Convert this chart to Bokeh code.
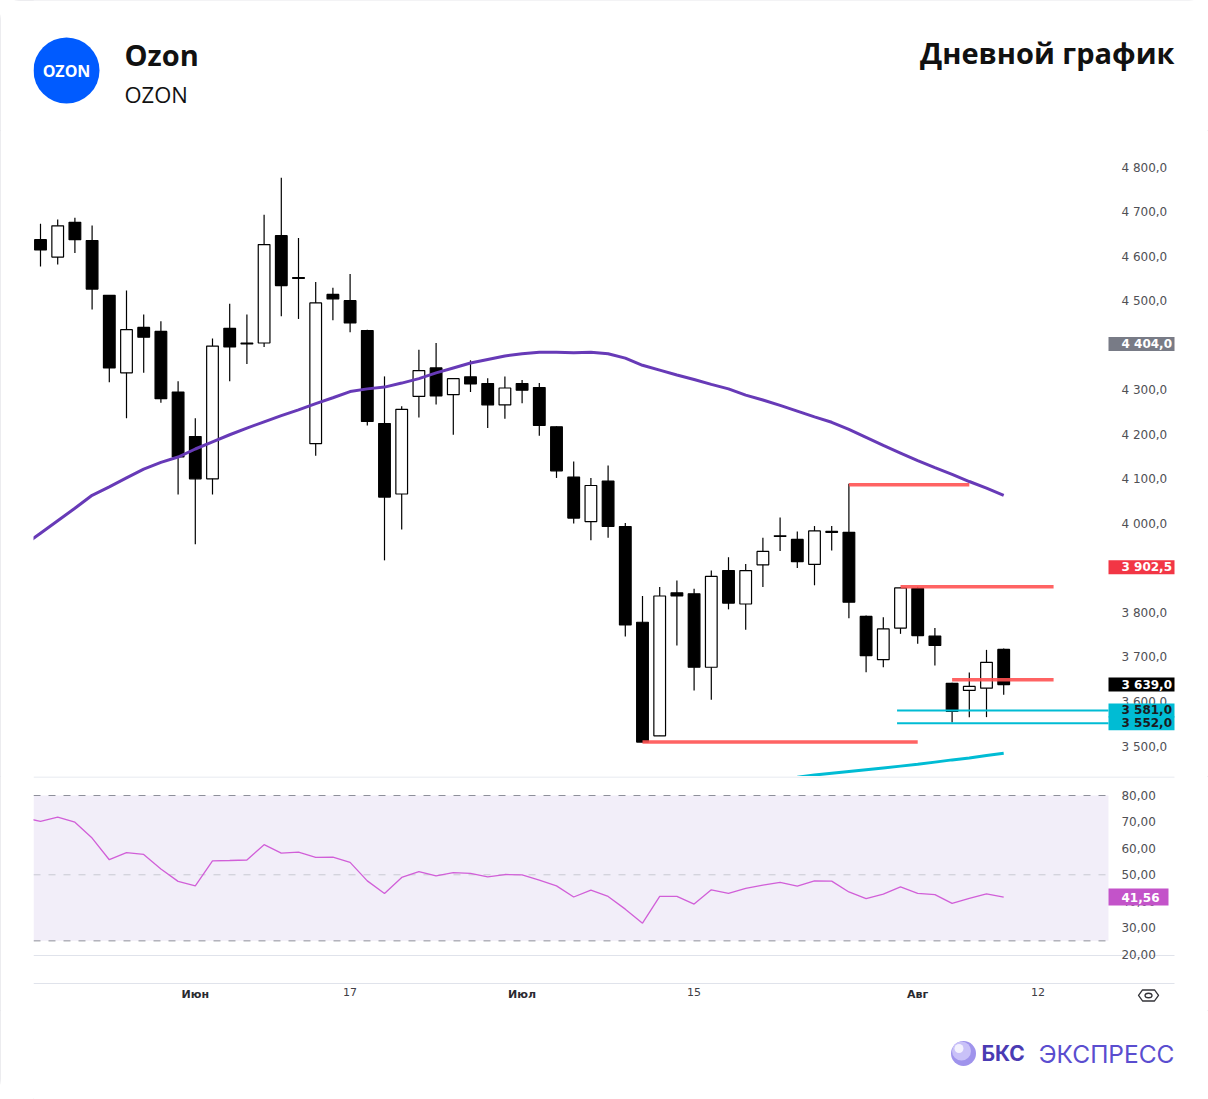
from bokeh.plotting import figure
from bokeh.layouts import column
from bokeh.models import Range1d, FixedTicker, ColumnDataSource, LinearAxis
from bokeh.core.properties import value
from bokeh.embed import file_html
from bokeh.resources import INLINE

# ---------------- data ----------------
dates = ["05-21", "05-22", "05-23", "05-24", "05-27", "05-28", "05-29", "05-30", "05-31",
         "06-03", "06-04", "06-05", "06-06", "06-07", "06-10", "06-11", "06-13", "06-14",
         "06-17", "06-18", "06-19", "06-20", "06-21", "06-24", "06-25", "06-26", "06-27", "06-28",
         "07-01", "07-02", "07-03", "07-04", "07-05", "07-08", "07-09", "07-10", "07-11", "07-12",
         "07-15", "07-16", "07-17", "07-18", "07-19", "07-22", "07-23", "07-24", "07-25", "07-26",
         "07-29", "07-30", "07-31", "08-01", "08-02", "08-05", "08-06", "08-07", "08-08"]
opens = [4638, 4599, 4677, 4636, 4513, 4339, 4441, 4432, 4296, 4196,
         4101, 4439, 4406, 4406, 4647, 4553, 4180, 4515, 4501, 4434,
         4225, 4067, 4286, 4350, 4290, 4330, 4315, 4267, 4315, 4306,
         4218, 4105, 4005, 4096, 3994, 3779, 3524, 3845, 3843, 3678,
         3895, 3820, 3908, 3973, 3965, 3909, 3983, 3981, 3792, 3695,
         3766, 3855, 3748, 3642, 3626, 3631, 3718]
highs = [4674, 4683, 4687, 4670, 4514, 4524, 4470, 4455, 4320, 4237,
         4416, 4494, 4470, 4694, 4777, 4642, 4543, 4530, 4561, 4436,
         4331, 4264, 4391, 4406, 4327, 4367, 4327, 4331, 4323, 4316,
         4219, 4140, 4103, 4131, 4002, 3838, 3858, 3873, 3854, 3895,
         3925, 3910, 3969, 4014, 3983, 3995, 3995, 4090, 3794, 3790,
         3858, 3859, 3766, 3643, 3666, 3717, 3720]
lows = [4578, 4582, 4608, 4481, 4318, 4237, 4339, 4272, 4066, 3954,
        4066, 4320, 4359, 4397, 4466, 4460, 4153, 4457, 4430, 4221,
        3918, 3987, 4239, 4268, 4200, 4296, 4215, 4236, 4271, 4198,
        4103, 4001, 3963, 3969, 3747, 3510, 3524, 3727, 3626, 3605,
        3808, 3762, 3858, 3939, 3901, 3862, 3940, 3788, 3667, 3678,
        3753, 3731, 3682, 3554, 3566, 3566, 3616]
closes = [4615, 4669, 4638, 4527, 4350, 4436, 4419, 4281, 4150, 4101,
          4399, 4397, 4404, 4627, 4535, 4551, 4496, 4505, 4451, 4230,
          4060, 4257, 4344, 4287, 4326, 4314, 4267, 4305, 4300, 4221,
          4119, 4013, 4086, 3994, 3773, 3510, 3838, 3838, 3678, 3882,
          3822, 3895, 3938, 3972, 3915, 3984, 3981, 3824, 3704, 3764,
          3856, 3749, 3727, 3579, 3635, 3689, 3639]

# indicator series start one session earlier (05-20)
ind_dates = ["05-20"] + dates
ma_values = [3951, 3979, 4007, 4035, 4064, 4083, 4103, 4123, 4138, 4150,
             4168, 4184, 4200, 4215, 4229, 4243, 4256, 4270, 4283, 4297,
             4303, 4307, 4316, 4326, 4339, 4350, 4361, 4369, 4377, 4382,
             4385, 4385, 4384, 4385, 4382, 4372, 4356, 4345, 4334, 4324,
             4313, 4303, 4289, 4278, 4266, 4253, 4240, 4228, 4212, 4194,
             4176, 4159, 4142, 4126, 4111, 4095, 4080, 4064]
rsi_values = [71.6, 70.2, 71.8, 69.9, 63.9, 55.7, 58.4, 57.7, 52.2, 47.5,
              45.8, 55.3, 55.4, 55.6, 61.4, 58.2, 58.6, 56.6, 56.7, 54.7,
              47.7, 42.9, 49.0, 51.2, 49.6, 50.8, 50.5, 49.2, 50.1, 50.0,
              48.0, 45.8, 41.6, 44.2, 41.8, 37.0, 31.7, 41.8, 41.8, 38.9,
              44.3, 43.0, 44.9, 46.1, 47.1, 45.7, 47.7, 47.6, 43.5, 41.0,
              42.7, 45.4, 43.0, 42.5, 39.2, 41.1, 42.8, 41.56]

# lower cyan trend line (sessions 07-23 .. 08-08)
trend_dates = ["07-23", "07-24", "07-25", "07-26", "07-29", "07-30", "07-31",
               "08-01", "08-02", "08-05", "08-06", "08-07", "08-08"]
trend_values = [3431, 3436, 3440, 3444, 3448, 3452, 3456, 3460, 3465, 3470, 3474, 3480, 3485]

# horizontal levels
red_prices = [4088, 3859, 3650, 3510]
red_from = ["07-26", "07-31", "08-05", "07-10"]
red_to_pos = [54, 58.9, 58.9, 51]
cyan_prices = [3581, 3552]

# price tags on the right scale
tag_values = [4404.0, 3902.5, 3639.0, 3581.0, 3552.0]
tag_bg = ["#787b86", "#f23645", "#000000", "#00bcd4", "#00bcd4"]
tag_fg = ["#ffffff", "#ffffff", "#ffffff", "#1b1b1f", "#1b1b1f"]
rsi_tag_value = 41.56

price_ticks = [3500, 3600, 3700, 3800, 3900, 4000, 4100, 4200, 4300, 4400, 4500, 4600, 4700, 4800]
rsi_ticks = [20, 30, 40, 50, 60, 70, 80]
rsi_levels = [80, 50, 25]
rsi_level_colors = ["#8e909a", "#c8c9d2", "#8e909a"]
day_tick_dates = ["06-17", "07-15", "08-12"]
day_tick_labels = ["17", "15", "12"]
month_tick_dates = ["06-03", "07-01", "08-01"]
month_tick_labels = ["Июн", "Июл", "Авг"]


def fmt_price(v):
    return f"{v:,.1f}".replace(",", " ").replace(".", ",")


def fmt_rsi(v):
    return f"{v:.2f}".replace(".", ",")


# positions on a trading-session axis
pos = {d: i for i, d in enumerate(dates)}
pos["05-20"] = -1
pos["08-12"] = len(dates) + 1
xs = [pos[d] for d in dates]
ind_x = [pos[d] for d in ind_dates]
trend_x = [pos[d] for d in trend_dates]

TICK_FONT = "DejaVu Sans"
W = 1208
X0, X1 = -0.407, 67.907      # whole frame incl. price-scale column
PANE_END = 62.09             # right edge of the chart panes (price scale starts here)
SEP_END = 65.93              # right end of separator lines
TAG_TX = 62.85               # where tag / tick texts start
XR = Range1d(X0, X1)


def clean(p):
    p.outline_line_color = None
    p.background_fill_color = "white"
    p.border_fill_color = "white"
    p.grid.visible = False
    return p


def style_price_axis(ax, ticks, fmt):
    ax.ticker = FixedTicker(ticks=ticks)
    ax.major_label_overrides = {t: fmt(t) for t in ticks}
    ax.fixed_location = PANE_END
    ax.axis_line_color = None
    ax.major_tick_line_color = None
    ax.minor_tick_line_color = None
    ax.major_tick_out = 0
    ax.major_tick_in = 0
    ax.major_label_standoff = 13
    ax.major_label_text_font = TICK_FONT
    ax.major_label_text_font_size = "12px"
    ax.major_label_text_color = "#505055"


def style_time_axis(ax, ticks, labels, bold, line_color):
    ax.ticker = FixedTicker(ticks=ticks)
    ax.major_label_overrides = {t: l for t, l in zip(ticks, labels)}
    ax.fixed_location = 8.87
    ax.bounds = (X0, SEP_END)
    ax.axis_line_color = line_color
    ax.major_tick_line_color = None
    ax.minor_tick_line_color = None
    ax.major_tick_out = 0
    ax.major_tick_in = 0
    ax.major_label_standoff = 5
    ax.major_label_text_font = TICK_FONT
    ax.major_label_text_font_size = "11px"
    ax.major_label_text_font_style = "bold" if bold else "normal"
    ax.major_label_text_color = "#2a2a30" if bold else "#404046"


# ---------------- header ----------------
hdr = clean(figure(width=W, height=130, x_range=Range1d(33, 1208), y_range=Range1d(130, 0),
                   x_axis_location=None, y_axis_location=None,
                   min_border_left=33, min_border_right=0, min_border_top=0, min_border_bottom=0,
                   output_backend="svg", toolbar_location=None))
hdr.scatter(x=[66], y=[70], size=66, marker="circle", fill_color="#005bff", line_color=None)
hdr.text(x=[66], y=[70], text=["OZON"], text_color="white", text_font=value("Open Sans"),
         text_font_style="bold", text_font_size="16px", text_align="center", text_baseline="middle")
hdr.text(x=[124], y=[54], text=["Ozon"], text_color="#111111", text_font=value("Open Sans"),
         text_font_style="bold", text_font_size="29px", text_align="left", text_baseline="middle")
hdr.text(x=[124], y=[93], text=["OZON"], text_color="#111111", text_font=value("Open Sans"),
         text_font_size="22px", text_align="left", text_baseline="middle")
hdr.text(x=[1174], y=[52], text=["Дневной график"], text_color="#111111", text_font=value("Open Sans"),
         text_font_style="bold", text_font_size="29px", text_align="right", text_baseline="middle")

# ---------------- main price pane ----------------
main = clean(figure(width=W, height=646, x_range=XR, y_range=Range1d(3432.7, 4883.1),
                    x_axis_location=None, y_axis_location="right",
                    min_border_left=33, min_border_right=0, min_border_top=0, min_border_bottom=0,
                    output_backend="svg", toolbar_location=None))
style_price_axis(main.yaxis[0], price_ticks, fmt_price)

tops = [max(o, c) for o, c in zip(opens, closes)]
bottoms = [min(o, c) for o, c in zip(opens, closes)]
fills = ["white" if c > o else "black" for o, c in zip(opens, closes)]
src = ColumnDataSource(dict(x=xs, high=highs, low=lows, top=tops, bottom=bottoms, fill=fills))
main.segment(x0="x", y0="low", x1="x", y1="high", source=src, line_color="black", line_width=1.2)
main.vbar(x="x", width=0.68, top="top", bottom="bottom", fill_color="fill",
          line_color="black", line_width=1.2, source=src)

main.line(ind_x, ma_values, line_color="#673ab7", line_width=3)
main.line(trend_x, trend_values, line_color="#00bcd4", line_width=3)

main.segment(x0=[pos[d] for d in red_from], y0=red_prices, x1=red_to_pos, y1=red_prices,
             line_color="#ff5252", line_width=3.5, line_alpha=0.9)
main.segment(x0=[49.8] * len(cyan_prices), y0=cyan_prices,
             x1=[PANE_END] * len(cyan_prices), y1=cyan_prices,
             line_color="#00bcd4", line_width=2)

tag_src = ColumnDataSource(dict(y=tag_values, text=[fmt_price(v) for v in tag_values],
                                bg=tag_bg, fg=tag_fg))
main.rect(x=64.012, y="y", width=66, height=14, width_units="screen", height_units="screen",
          fill_color="bg", line_color=None, source=tag_src, level="overlay")
main.text(x=TAG_TX, y="y", text="text", text_color="fg", text_font=value(TICK_FONT),
          text_font_style="bold", text_font_size="12px", text_align="left", text_baseline="middle",
          source=tag_src, level="overlay")

# ---------------- RSI pane + time axis ----------------
rsi = clean(figure(width=W, height=234, x_range=XR, y_range=Range1d(-1.35, 87.19),
                   y_axis_location="right",
                   min_border_left=33, min_border_right=0, min_border_top=0, min_border_bottom=0,
                   output_backend="svg", toolbar_location=None))
rsi.quad(left=[X0], right=[PANE_END], bottom=[25], top=[80], fill_color="#f2eef9",
         line_color=None, level="underlay")
rsi.segment(x0=[X0] * 3, y0=rsi_levels, x1=[PANE_END] * 3, y1=rsi_levels,
            line_color=rsi_level_colors, line_width=1, line_dash="7 8")
# pane separators
rsi.segment(x0=[X0, X0], y0=[87.0, 19.46], x1=[SEP_END, SEP_END], y1=[87.0, 19.46],
            line_color="#e0e3eb", line_width=1)
rsi.line(ind_x, rsi_values, line_color="#d15fd8", line_width=1.3)

style_price_axis(rsi.yaxis[0], rsi_ticks, fmt_rsi)

rsi.rect(x=[63.837], y=[rsi_tag_value], width=60, height=17, width_units="screen", height_units="screen",
         fill_color="#c353c9", line_color=None, level="overlay")
rsi.text(x=[TAG_TX], y=[rsi_tag_value], text=[fmt_rsi(rsi_tag_value)], text_color="white",
         text_font=value(TICK_FONT), text_font_style="bold", text_font_size="12px",
         text_align="left", text_baseline="middle", level="overlay")

# time scale: day numbers (regular) and month names (bold) on the same line
style_time_axis(rsi.xaxis[0], [pos[d] for d in day_tick_dates], day_tick_labels, False, "#e0e3eb")
month_axis = LinearAxis()
rsi.add_layout(month_axis, "below")
style_time_axis(month_axis, [pos[d] for d in month_tick_dates], month_tick_labels, True, None)

# eye icon of the time scale
ICX, ICY = 64.42, 4.33
hx = [-10, -6, 6, 10, 6, -6]
hy = [0, 5.5, 5.5, 0, -5.5, -5.5]
rsi.patch(x=[ICX + d / 17.2 for d in hx], y=[ICY + d / 2.643 for d in hy],
          fill_color=None, line_color="#333338", line_width=1.3, line_join="round")
rsi.ellipse(x=[ICX], y=[ICY], width=7, height=4.5, width_units="screen", height_units="screen",
            fill_color=None, line_color="#333338", line_width=1.3)

# ---------------- footer ----------------
ftr = clean(figure(width=W, height=89, x_range=Range1d(33, 1208), y_range=Range1d(1099, 1010),
                   x_axis_location=None, y_axis_location=None,
                   min_border_left=33, min_border_right=0, min_border_top=0, min_border_bottom=0,
                   output_backend="svg", toolbar_location=None))
ftr.scatter(x=[963], y=[1053], size=25, marker="circle", fill_color="#9f93ec", line_color=None)
ftr.scatter(x=[961], y=[1050.5], size=19, marker="circle", fill_color="#c9c1f8", line_color=None)
ftr.scatter(x=[958.5], y=[1048], size=9, marker="circle", fill_color="#f3f1fe", line_color=None)
ftr.text(x=[981], y=[1053], text=["БКС"], text_color="#4a3bb3", text_font=value("Inter"),
         text_font_style="bold", text_font_size="21px", text_align="left", text_baseline="middle")
ftr.text(x=[1174], y=[1053], text=["ЭКСПРЕСС"], text_color="#5a4dcf", text_font=value("Inter"),
         text_font_size="24.5px", text_align="right", text_baseline="middle")

layout = column(hdr, main, rsi, ftr, spacing=0,
                styles={"outline": "1px solid #e6e6ea", "outline-offset": "-1px", "border-radius": "20px"})

open("out.html", "w").write(file_html(layout, INLINE))
